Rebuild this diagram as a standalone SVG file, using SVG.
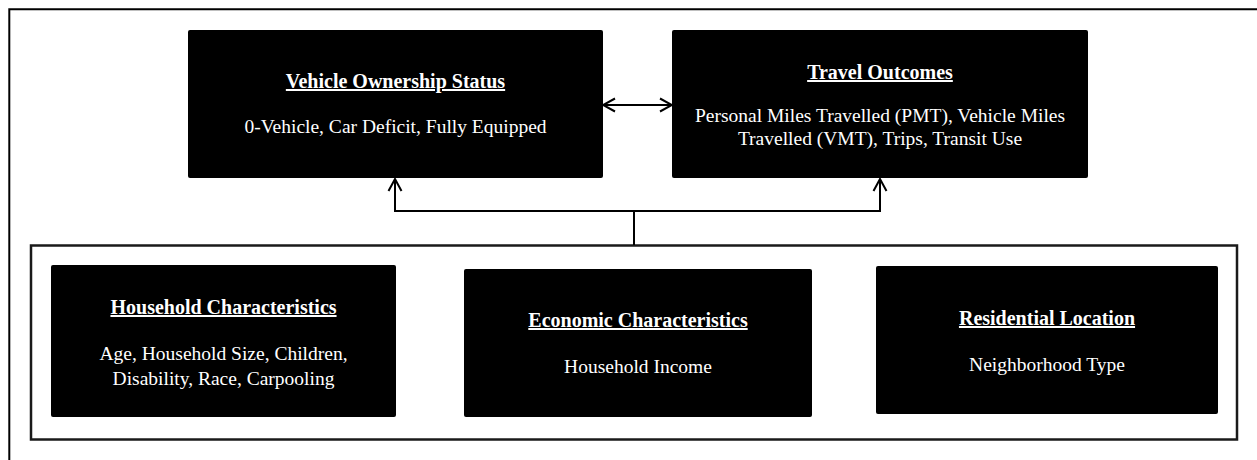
<svg xmlns="http://www.w3.org/2000/svg" width="1257" height="460" viewBox="0 0 1257 460">
<defs>
<style>
.box{fill:#000;stroke:none}
.ttl{font-family:"Liberation Serif","Times New Roman",serif;font-weight:bold;font-size:20px;fill:#fff;text-anchor:middle;text-decoration:underline}
.bdy{font-family:"Liberation Serif","Times New Roman",serif;font-size:19.5px;fill:#fff;text-anchor:middle}
.ln{fill:none;stroke:#000;stroke-width:2}
.frame{fill:none;stroke:#1a1a1a;stroke-width:2.5}
</style>
<marker id="arr" viewBox="-13 -8 14 16" markerWidth="14" markerHeight="16" refX="0" refY="0" orient="auto-start-reverse" markerUnits="userSpaceOnUse">
<path d="M-12,-6.5 L0,0 L-12,6.5" fill="none" stroke="#000" stroke-width="2"/>
</marker>
</defs>
<rect width="1257" height="460" fill="#fff"/>
<path class="ln" d="M9.3,460 L9.3,9.3 L1257,9.3"/>
<rect id="factors-frame" class="frame" x="31" y="245.5" width="1206" height="194"/>
<g id="vehicle-ownership">
<rect class="box" x="188" y="30" width="415" height="148" rx="2"/>
<text class="ttl" x="395.5" y="88">Vehicle Ownership Status</text>
<text class="bdy" x="395.5" y="133">0-Vehicle,  Car Deficit,  Fully  Equipped</text>
</g>
<g id="travel-outcomes">
<rect class="box" x="672" y="30" width="416" height="148" rx="2"/>
<text class="ttl" x="880" y="79">Travel Outcomes</text>
<text class="bdy" x="880" y="122">Personal Miles  Travelled  (PMT), Vehicle  Miles</text>
<text class="bdy" x="880" y="145">Travelled  (VMT), Trips, Transit Use</text>
</g>
<g id="household">
<rect class="box" x="51" y="265" width="345" height="152" rx="2"/>
<text class="ttl" x="223.5" y="314">Household Characteristics</text>
<text class="bdy" x="223.5" y="360">Age, Household Size, Children,</text>
<text class="bdy" x="223.5" y="385">Disability,  Race, Carpooling</text>
</g>
<g id="economic">
<rect class="box" x="464" y="269" width="348" height="148" rx="2"/>
<text class="ttl" x="638" y="327">Economic Characteristics</text>
<text class="bdy" x="638" y="373">Household  Income</text>
</g>
<g id="residential">
<rect class="box" x="876" y="266" width="342" height="148" rx="2"/>
<text class="ttl" x="1047" y="325">Residential Location</text>
<text class="bdy" x="1047" y="371">Neighborhood Type</text>
</g>
<g id="connectors">
<path class="ln" d="M603,105 L672,105" marker-start="url(#arr)" marker-end="url(#arr)"/>
<path class="ln" d="M395,179 L395,211 L880,211 L880,179" marker-start="url(#arr)" marker-end="url(#arr)"/>
<path class="ln" d="M634,211 L634,245"/>
</g>
</svg>
